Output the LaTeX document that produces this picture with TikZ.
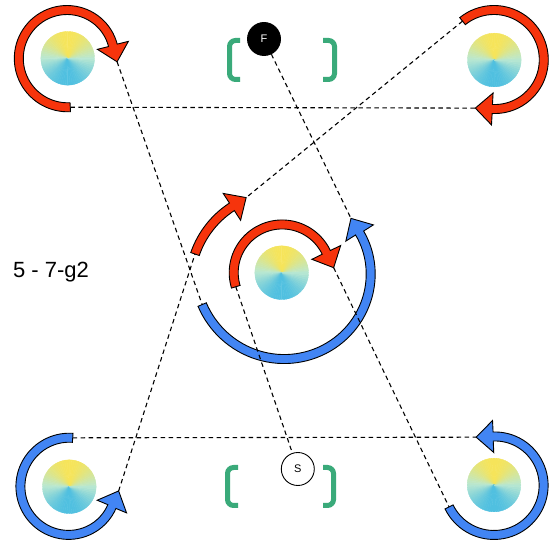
\documentclass[tikz,border=0pt]{standalone}
\usepackage{fontspec}
\setmainfont{Liberation Sans}
\usetikzlibrary{positioning,calc}
\definecolor{spinred}{RGB}{246,52,12}
\definecolor{spinblue}{RGB}{66,133,244}
\definecolor{cuegreen}{RGB}{58,170,122}

% disc with a cone of colours: name, x, y
\newcommand{\conedisc}[3]{%
  \coordinate (#1) at (#2,#3);
  \foreach \a in {0,5,...,355}{
    \pgfmathsetmacro\discT{(1-sin(\a+2.5))/2}
    \pgfmathtruncatemacro\discR{\discT<0.5 ? 247-124*\discT : 185-210*(\discT-0.5)}
    \pgfmathtruncatemacro\discG{\discT<0.5 ? 228+8*\discT : 232-80*(\discT-0.5)}
    \pgfmathtruncatemacro\discB{\discT<0.5 ? 90+240*\discT : 210+30*(\discT-0.5)}
    \definecolor{wedge}{RGB}{\discR,\discG,\discB}
    \filldraw[wedge, line width=0.4pt, line join=round] (#2,#3) -- ++(\a:26.8) arc[start angle=\a, end angle=\a+5, radius=26.8pt] -- cycle;
  }}

% curved arrow: name, x, y, start angle, end angle, start radius, end radius, colour
\newcommand{\spinarrow}[8]{%
  \begin{scope}[shift={(#2,#3)}]
    \pgfmathsetmacro\spinDir{((#5)>(#4)) ? 1 : -1}
    \pgfmathsetmacro\spinTurn{atan(3*((#6)-(#7))/abs((#5)-(#4))*57.2958/(#7))}
    \pgfmathsetmacro\spinHead{(#5)+\spinDir*(90+\spinTurn)}
    \pgfmathsetmacro\baseX{(#7)*cos(#5)}
    \pgfmathsetmacro\baseY{(#7)*sin(#5)}
    \filldraw[spinband, fill=#8]
      plot[domain=#4:#5, samples=60] (\x:{#6+(#7-#6)*((\x-(#4))/((#5)-(#4)))^3+4.5})
      -- ({\baseX+16*cos(\spinHead-\spinDir*90)},{\baseY+16*sin(\spinHead-\spinDir*90)})
      -- ({\baseX+17*cos(\spinHead)},{\baseY+17*sin(\spinHead)})
      -- ({\baseX+16*cos(\spinHead+\spinDir*90)},{\baseY+16*sin(\spinHead+\spinDir*90)})
      -- plot[domain=#5:#4, samples=60] (\x:{#6+(#7-#6)*((\x-(#4))/((#5)-(#4)))^3-4.5})
      -- cycle;
    \coordinate (#1-tail) at (#4:#6);
    \coordinate (#1-tip) at ({\baseX+17*cos(\spinHead)},{\baseY+17*sin(\spinHead)});
  \end{scope}}

\begin{document}
\begin{tikzpicture}[x=1pt, y=1pt,
    spinband/.style={draw=black, line width=0.9pt, line join=miter},
    tether/.style={draw, line width=1.1pt, dash pattern=on 4.5pt off 3.5pt},
    hub/.style={circle, draw, line width=0.9pt, minimum size=33pt, inner sep=0pt, font=\fontsize{11}{13}\selectfont},
    cue/.style={draw=cuegreen, line width=5pt, rounded corners=6pt}
]
    \useasboundingbox (0,0) rectangle (560,544);

    % discs
    \conedisc{dtl}{67.7}{485.7}
    \conedisc{dtr}{494.3}{484}
    \conedisc{dbl}{69.3}{57.3}
    \conedisc{dbr}{494}{59}
    \conedisc{dmid}{281.7}{271.3}

    % rotations
    \spinarrow{tl}{67.7}{485.7}{273}{16}{49}{47}{spinred}
    \spinarrow{tr}{494}{484}{129}{-92}{50}{49}{spinred}
    \spinarrow{bl}{69.3}{57.3}{86}{335}{49}{47}{spinblue}
    \spinarrow{br}{494}{59}{206}{451}{50}{48.5}{spinblue}
    \spinarrow{ci}{281.7}{271.3}{197}{24.5}{48}{49}{spinred}
    \spinarrow{co}{282}{260}{161}{123}{92}{92}{spinred}
    \spinarrow{cb}{285}{274.6}{203}{386}{90}{83}{spinblue}

    % brackets
    \draw[cue] (240,503.5) -- (229.5,503.5) -- (229.5,464.5) -- (240,464.5);
    \draw[cue] (323,503.5) -- (334.5,503.5) -- (334.5,464.5) -- (323,464.5);
    \draw[cue] (238,76.5) -- (227.5,76.5) -- (227.5,38.5) -- (238,38.5);
    \draw[cue] (323,76.5) -- (333.5,76.5) -- (333.5,38.5) -- (323,38.5);

    \node[hub, fill=black, text=white] (F) at (264,505) {F};
    \node[hub, fill=white] (S) at (297.8,75) {S};

    \draw[tether] (tl-tail) -- (tr-tip);
    \draw[tether] (bl-tail) -- (br-tip);
    \draw[tether] (tl-tip) -- (cb-tail);
    \draw[tether] (tr-tail) -- (co-tip);
    \draw[tether] (bl-tip) -- (co-tail);
    \draw[tether] (ci-tip) -- (br-tail);
    \draw[tether] (ci-tail) -- (S);
    \draw[tether] (F) -- (cb-tip);

    \node[font=\fontsize{22}{26}\selectfont] (tag) at (51,272) {5 - 7-g2};
\end{tikzpicture}
\end{document}
